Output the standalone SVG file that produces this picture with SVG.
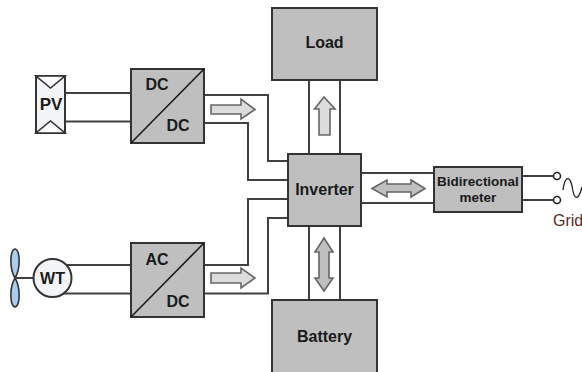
<svg xmlns="http://www.w3.org/2000/svg" width="582" height="372" viewBox="0 0 582 372">
<style>
.box{fill:#bfbfbf;stroke:#333;stroke-width:2}
.wire{fill:none;stroke:#404040;stroke-width:2}
.diag{fill:none;stroke:#1a1a1a;stroke-width:1.6}
.t{font-family:"Liberation Sans",Arial,sans-serif;font-weight:700;font-size:16px;fill:#1a1a1a;text-anchor:middle}
.arr1{fill:#dcdcdc;stroke:#666;stroke-width:1.6}
.arr2{fill:#bfbfbf;stroke:#666;stroke-width:1.6}
</style>
<rect width="582" height="372" fill="#fff"/>
<g id="connectors">
<path class="wire" d="M65 93H131M65 121.500H131"/>
<path class="wire" d="M204 95H268V161H288M204 123H248V180H288"/>
<path class="wire" d="M60 265H131M60 293.500H131"/>
<path class="wire" d="M204 265H248V199H288M204 293.500H268V218H288"/>
<path class="wire" d="M309 80V154M340 80V154M309 226V300M340 226V300"/>
<path class="wire" d="M361 173H434M361 203H434"/>
<path class="wire" d="M522 176H553M522 200H553"/>
</g>
<g id="arrow-pv"><path class="arr1" d="M211 105H241V99L255 109.500L241 119V114H211Z"/></g>
<g id="arrow-wt"><path class="arr1" d="M211 273H241V268L255 278L241 288V283H211Z"/></g>
<g id="arrow-load"><path class="arr1" d="M319 135V109H314.500L324 97L335 109H330V135Z"/></g>
<g id="arrow-battery"><path class="arr2" d="M324 238L333 252H329V278H333L324 291L315 278H319V252H315Z"/></g>
<g id="arrow-meter"><path class="arr2" d="M372 188.500L387 180V184H411V180L425 188.500L411 197V192H387V197Z"/></g>
<g id="pv">
<rect x="36" y="76" width="29" height="57" fill="#f2f4f8" stroke="#333" stroke-width="2"/>
<path d="M36 76H65L50.500 88ZM36 133H65L50.500 121Z" fill="#fff" stroke="#333" stroke-width="1.600"/>
<text class="t" x="51" y="110" style="font-size:17px">PV</text>
</g>
<g id="dcdc">
<rect class="box" x="131" y="69" width="73" height="74"/>
<path class="diag" d="M131 143L204 69"/>
<text class="t" x="157" y="90">DC</text>
<text class="t" x="178" y="131">DC</text>
</g>
<g id="wt">
<path d="M15 278C9 268 10 250 15 249C20 250 21 268 15 278C9 288 10 306 15 307C20 306 21 288 15 278Z" fill="#a9cdee" stroke="#333" stroke-width="1.600"/>
<path class="wire" d="M15 278H33"/>
<circle cx="52.500" cy="278" r="19" fill="#f2f4f8" stroke="#333" stroke-width="2"/>
<text class="t" x="52.500" y="284" style="font-size:16px">WT</text>
</g>
<g id="acdc">
<rect class="box" x="131" y="243" width="73" height="74"/>
<path class="diag" d="M131 317L204 243"/>
<text class="t" x="157" y="265">AC</text>
<text class="t" x="178" y="307">DC</text>
</g>
<g id="load">
<rect class="box" x="272" y="8" width="105" height="72"/>
<text class="t" x="324.500" y="48">Load</text>
</g>
<g id="inverter">
<rect class="box" x="288" y="154" width="73" height="72"/>
<text class="t" x="324.500" y="195">Inverter</text>
</g>
<g id="battery">
<rect class="box" x="272" y="300" width="105" height="76"/>
<text class="t" x="324.500" y="342">Battery</text>
</g>
<g id="meter">
<rect class="box" x="434" y="167" width="88" height="45"/>
<text class="t" x="478" y="186" style="font-size:13.500px">Bidirectional</text>
<text class="t" x="478" y="202" style="font-size:13.500px">meter</text>
</g>
<g id="grid">
<circle cx="557" cy="176" r="3.500" fill="#fff" stroke="#222" stroke-width="1.500"/>
<circle cx="557" cy="200" r="3.500" fill="#fff" stroke="#222" stroke-width="1.500"/>
<path d="M563 190C565 175 570 176 572 186C574 200 578 202 582 187" fill="none" stroke="#222" stroke-width="1.300"/>
<text x="553" y="226" style="font-family:'Liberation Sans',Arial,sans-serif;font-size:16px;fill:#5a2a1a">Grid</text>
</g>
</svg>
